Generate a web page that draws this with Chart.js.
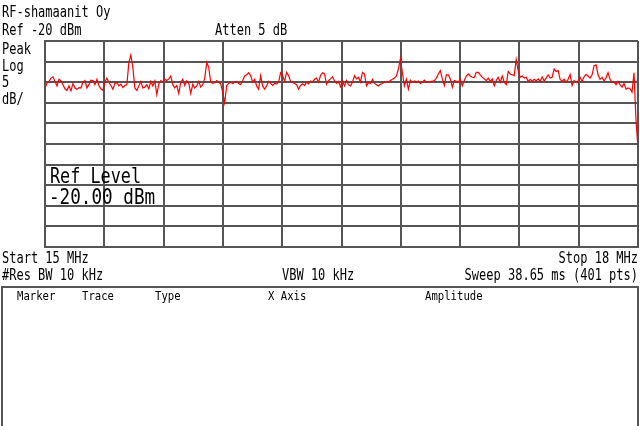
<!DOCTYPE html>
<html>
<head>
<meta charset="utf-8">
<script src="https://cdn.jsdelivr.net/npm/chart.js@4"></script>
<style>
  html, body { margin: 0; padding: 0; background: #fff; }
  #sa { display: block; }
</style>
</head>
<body>
<canvas id="sa" width="640" height="426"></canvas>
<script>
// sweep settings (MHz / dBm)
const startMHz = 15
const stopMHz = 18
const refLevel = -20
const dbPerDiv = 5
const divisions = 10
const sweepPts = 401

// trace, 15.0 - 15.75 MHz
const traceA = [-31.4,-30.2,-29.8,-29.0,-28.7,-29.8,-30.9,-29.3,-29.7,-30.6,
  -31.6,-32.0,-30.9,-32.1,-30.3,-31.4,-31.7,-31.3,-31.4,-30.0,
  -29.6,-31.4,-30.6,-29.5,-29.6,-30.6,-29.3,-30.8,-31.6,-32.0,
  -30.0,-29.0,-30.0,-30.8,-31.7,-30.3,-30.1,-30.9,-30.5,-31.3,
  -30.8,-30.6,-25.2,-23.4,-26.4,-31.4,-32.0,-30.9,-29.8,-31.4,
  -31.2,-30.6,-31.6,-29.8,-30.9,-29.7,-33.0,-30.4,-29.6,-30.0,
  -29.3,-29.6,-29.2,-28.5,-30.6,-31.4,-30.8,-32.7,-30.0,-29.3,
  -30.8,-29.7,-30.3,-32.7,-30.5]
// 15.75 - 16.5 MHz
const traceB = [-31.4,-30.9,-29.8,-31.2,-30.6,-29.0,-25.2,-26.4,-30.0,-30.3,
  -30.1,-29.6,-30.0,-30.4,-32.4,-35.0,-30.8,-30.3,-30.0,-30.3,
  -30.0,-29.8,-30.3,-30.6,-29.6,-28.5,-28.2,-27.7,-28.4,-30.0,
  -29.3,-30.9,-31.7,-28.4,-30.9,-31.7,-30.9,-29.8,-30.3,-30.8,
  -30.3,-30.4,-30.0,-27.7,-28.4,-29.8,-27.6,-28.4,-29.8,-30.0,
  -30.3,-30.6,-31.7,-30.8,-30.4,-30.8,-30.0,-30.4,-29.7,-30.0,
  -29.3,-29.0,-30.0,-28.4,-27.7,-28.0,-30.5,-29.6,-29.2,-28.7,
  -29.7,-30.3,-29.8,-31.1]
// 16.5 - 17.25 MHz
const traceC = [-29.8,-30.9,-29.6,-30.6,-30.9,-30.0,-28.4,-29.2,-28.8,-30.0,
  -27.6,-28.0,-30.9,-30.1,-30.3,-29.3,-30.3,-30.6,-30.9,-30.5,
  -30.3,-30.0,-29.8,-30.0,-29.6,-29.3,-29.0,-28.5,-26.8,-24.3,
  -27.7,-30.9,-29.3,-31.7,-29.5,-30.0,-29.7,-30.0,-29.7,-30.3,
  -30.0,-29.5,-30.0,-30.0,-29.8,-29.8,-29.6,-29.0,-28.0,-27.2,
  -29.2,-30.8,-28.2,-28.2,-29.2,-31.2,-29.6,-29.8,-30.0,-29.3,
  -30.9,-29.6,-28.5,-28.0,-28.5,-28.8,-28.9,-27.6,-27.6,-28.2,
  -28.8,-29.2,-29.6,-29.0]
// 17.25 - 18.0 MHz
const traceD = [-29.8,-29.2,-30.9,-29.6,-28.8,-30.0,-28.5,-30.0,-30.6,-27.4,
  -28.0,-28.2,-28.4,-24.5,-27.2,-28.8,-28.5,-29.0,-28.8,-29.8,
  -29.3,-29.8,-29.3,-29.7,-29.2,-29.8,-28.7,-29.7,-29.0,-28.2,
  -29.0,-28.8,-26.8,-27.4,-27.2,-29.3,-29.8,-29.3,-30.0,-29.3,
  -28.1,-30.8,-29.6,-30.1,-29.7,-28.8,-29.8,-28.7,-28.1,-28.5,
  -29.0,-28.2,-26.0,-25.8,-28.2,-29.3,-28.8,-29.7,-29.0,-27.7,
  -29.3,-30.0,-30.0,-30.6,-29.8,-30.6,-31.2,-30.3,-31.7,-31.4,
  -31.6,-32.4,-27.7,-39.2,-46.0]

const levels = traceA.concat(traceB, traceC, traceD)
const points = levels.map((v, i) => ({
  x: startMHz + i * (stopMHz - startMHz) / (levels.length - 1),
  y: v
}))

const gridCol = '#555555'
const mono = '"DejaVu Sans Mono", "Liberation Mono", monospace'

// squeezed instrument-style text
function txt(ctx, s, x, y, size, sx, align) {
  ctx.save()
  ctx.font = size + 'px ' + mono
  ctx.fillStyle = '#000'
  ctx.textBaseline = 'alphabetic'
  ctx.textAlign = 'left'
  var w = ctx.measureText(s).width * sx
  if (align === 'right') x = x - w
  ctx.translate(x, y)
  ctx.scale(sx, 1)
  ctx.fillText(s, 0, 0)
  ctx.restore()
}

const annotations = {
  id: 'annotations',
  afterDraw(chart) {
    const ctx = chart.ctx
    txt(ctx, 'RF-shamaanit Oy', 2, 17, 16, 0.75)
    txt(ctx, 'Ref ' + refLevel + ' dBm', 2, 35, 16, 0.75)
    txt(ctx, 'Atten 5 dB', 215, 35, 16, 0.75)
    txt(ctx, 'Peak', 2, 54, 16, 0.75)
    txt(ctx, 'Log', 2, 71, 16, 0.75)
    txt(ctx, String(dbPerDiv), 2, 87, 16, 0.75)
    txt(ctx, 'dB/', 2, 104, 16, 0.75)

    txt(ctx, 'Ref Level', 50, 183, 21, 0.8)
    txt(ctx, refLevel.toFixed(2) + ' dBm', 49, 204, 21, 0.84)

    txt(ctx, 'Start ' + startMHz + ' MHz', 2, 263, 16, 0.75)
    txt(ctx, 'Stop ' + stopMHz + ' MHz', 638, 263, 16, 0.75, 'right')
    txt(ctx, '#Res BW 10 kHz', 2, 280, 16, 0.75)
    txt(ctx, 'VBW 10 kHz', 282, 280, 16, 0.75)
    txt(ctx, 'Sweep 38.65 ms (' + sweepPts + ' pts)', 638, 280, 16, 0.75, 'right')

    // marker table box
    ctx.save()
    ctx.strokeStyle = gridCol
    ctx.lineWidth = 2
    ctx.strokeRect(2, 287, 636, 140)
    ctx.restore()
    txt(ctx, 'Marker', 17, 300, 12.5, 0.85)
    txt(ctx, 'Trace', 82, 300, 12.5, 0.85)
    txt(ctx, 'Type', 155, 300, 12.5, 0.85)
    txt(ctx, 'X Axis', 268, 300, 12.5, 0.85)
    txt(ctx, 'Amplitude', 425, 300, 12.5, 0.85)
  }
}

new Chart(document.getElementById('sa'), {
  type: 'line',
  data: {
    datasets: [{
      data: points,
      borderColor: '#ff0000',
      borderWidth: 1.2,
      pointRadius: 0,
      tension: 0,
      fill: false
    }]
  },
  options: {
    responsive: false,
    animation: false,
    events: [],
    layout: {
      padding: { top: 41, left: 45, right: 2, bottom: 179 }
    },
    plugins: {
      legend: { display: false },
      tooltip: { enabled: false }
    },
    scales: {
      x: {
        type: 'linear',
        min: startMHz,
        max: stopMHz,
        ticks: { display: false, stepSize: (stopMHz - startMHz) / divisions },
        grid: { color: gridCol, lineWidth: 2, drawTicks: false },
        border: { display: true, color: gridCol, width: 2 }
      },
      y: {
        min: refLevel - dbPerDiv * divisions,
        max: refLevel,
        ticks: { display: false, stepSize: dbPerDiv },
        grid: { color: gridCol, lineWidth: 2, drawTicks: false },
        border: { display: true, color: gridCol, width: 2 }
      }
    }
  },
  plugins: [annotations]
})
</script>
</body>
</html>
